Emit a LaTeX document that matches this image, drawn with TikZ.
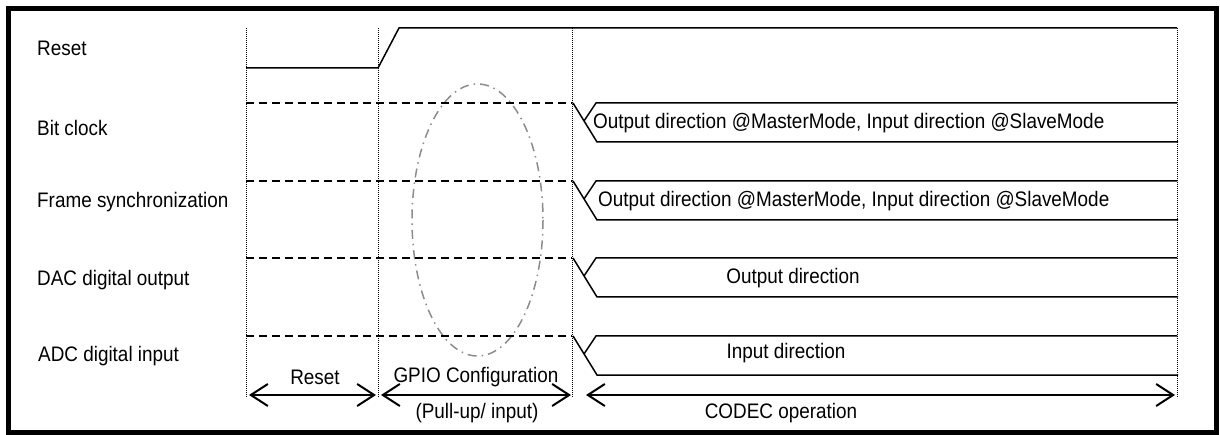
\documentclass[tikz,border=0pt]{standalone}
\usepackage{fontspec}
\setmainfont[FakeStretch=0.9]{Liberation Sans}
\usetikzlibrary{arrows.meta}
\begin{document}
\begin{tikzpicture}[x=1pt,y=-1pt,
  txt/.style={inner sep=0pt,font=\fontsize{21}{25}\selectfont},
  sig/.style={line width=1.5pt},
  guide/.style={densely dotted,line width=1pt},
  dashline/.style={line width=1.5pt,dash pattern=on 8pt off 5pt},
  oval/.style={draw=black!45,line width=1.5pt,dash pattern=on 9pt off 5pt on 1.5pt off 5pt},
  span/.style={line width=2pt,{Straight Barb[length=17pt,width=22pt]}-{Straight Barb[length=17pt,width=22pt]}}]
\useasboundingbox (0,0) rectangle (1220,435);
\draw[line width=5pt] (8,8.5) rectangle (1216,432);
% signal labels
\node[txt,anchor=west] (lreset) at (37,48) {Reset};
\node[txt,anchor=west] (lbit) at (37,128) {Bit clock};
\node[txt,anchor=west] (lframe) at (37,202) {Frame synchronization};
\node[txt,anchor=west] (ldac) at (37,280) {DAC digital output};
\node[txt,anchor=west] (ladc) at (38,356) {ADC digital input};
% vertical guides
\foreach \x/\n in {246/a,378/b,572/c,1177/d} {
  \coordinate (t\n) at (\x,28);
  \coordinate (b\n) at (\x,398);
  \draw[guide] (t\n) -- (b\n);
}
% reset waveform
\coordinate (r0) at (246,68);
\coordinate (r1) at (378,68);
\coordinate (r2) at (399,28);
\coordinate (r3) at (1177,28);
\draw[sig] (r0) -- (r1) -- (r2) -- (r3);
% ellipse
\draw[oval] (477.5,220) ellipse [x radius=65.5, y radius=136];
% dashed and bus lines
\foreach \t in {103,181,258,336} {
  \draw[dashline] (246,\t) -- (572,\t);
  \draw[sig] (573,\t) -- (597,\t+39) -- (1178,\t+39);
  \draw[sig] (584,\t+18) -- (596,\t) -- (1177,\t);
}
% bus texts
\node[txt,anchor=west] (bbit) at (593,123) {Output direction @MasterMode, Input direction @SlaveMode};
\node[txt,anchor=west] (bframe) at (598,201) {Output direction @MasterMode, Input direction @SlaveMode};
\node[txt] (bdac) at (793,278) {Output direction};
\node[txt] (badc) at (786,353) {Input direction};
% phase arrows
\coordinate (p0) at (249,395);
\coordinate (p1) at (376,395);
\coordinate (p2) at (381,395);
\coordinate (p3) at (571,395);
\coordinate (p4) at (586,395);
\coordinate (p5) at (1175,395);
\draw[span] (p0) -- (p1);
\draw[span] (p2) -- (p3);
\draw[span] (p4) -- (p5);
\node[txt] (preset) at (315,377) {Reset};
\node[txt] (pgpio) at (476,377) {GPIO Configuration};
\node[txt] (ppull) at (477,413) {(Pull-up/ input)};
\node[txt] (pcodec) at (781,413) {CODEC operation};
\end{tikzpicture}
\end{document}
